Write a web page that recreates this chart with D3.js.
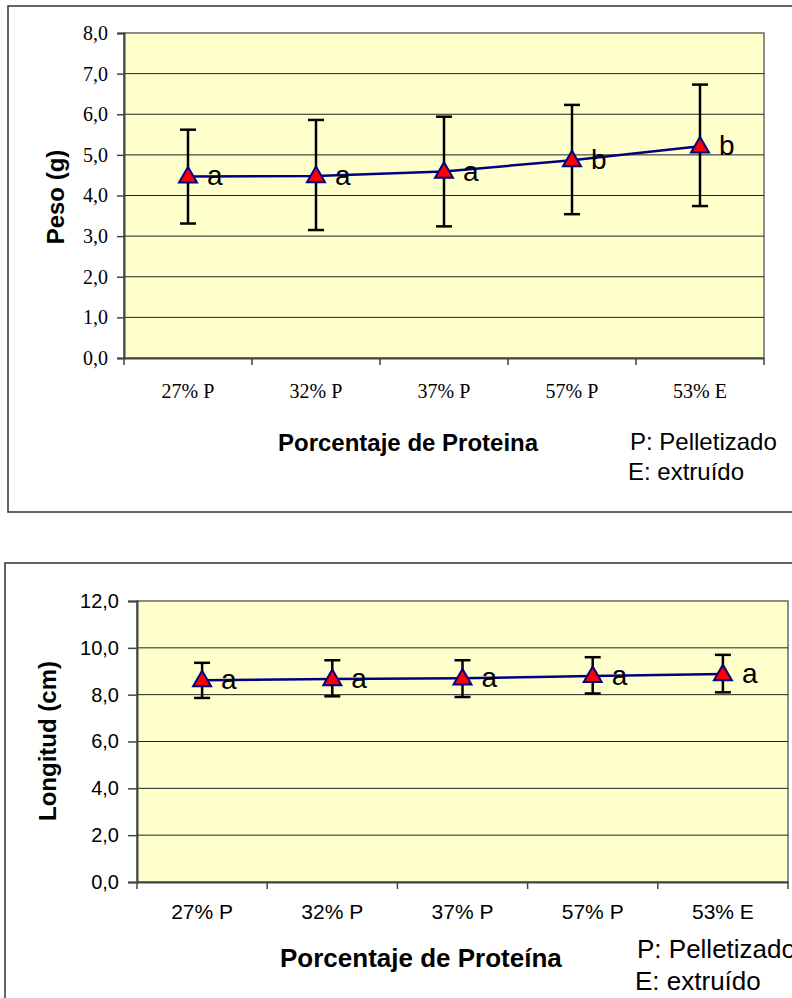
<!DOCTYPE html>
<html>
<head>
<meta charset="utf-8">
<script src="https://cdn.jsdelivr.net/npm/d3@7"></script>
<style>
  body { margin: 0; background: #fff; }
  svg { display: block; }
</style>
</head>
<body>
<svg width="792" height="998"></svg>
<script>
const categories = ['27% P', '32% P', '37% P', '57% P', '53% E']

// peso (g)
const pesoMean = [4.47, 4.48, 4.59, 4.87, 5.21]
const pesoHigh = [5.62, 5.86, 5.94, 6.23, 6.73]
const pesoLow = [3.31, 3.15, 3.24, 3.54, 3.74]
const pesoGroup = ['a', 'a', 'a', 'b', 'b']
const pesoTicks = [0, 1, 2, 3, 4, 5, 6, 7, 8]

// longitud (cm)
const longMean = [8.62, 8.67, 8.70, 8.80, 8.88]
const longHigh = [9.36, 9.47, 9.47, 9.60, 9.70]
const longLow = [7.86, 7.93, 7.90, 8.05, 8.10]
const longGroup = ['a', 'a', 'a', 'a', 'a']
const longTicks = [0, 2, 4, 6, 8, 10, 12]

const legendLines = ['P: Pelletizado', 'E: extruído']

const comma = d3.formatLocale({ decimal: ',', thousands: '.', grouping: [3], currency: ['', ''] }).format('.1f')
const svg = d3.select('svg')

function drawChart(c) {
  const g = svg.append('g')

  // outer box (right edge runs off the page)
  g.append('rect')
    .attr('x', c.box[0]).attr('y', c.box[1])
    .attr('width', 900).attr('height', c.box[2] - c.box[1])
    .attr('fill', '#fff').attr('stroke', '#333').attr('stroke-width', 1.5)

  const x = d3.scaleBand().domain(categories).range([c.left, c.right])
  const y = d3.scaleLinear().domain([0, d3.max(c.ticks)]).range([c.bottom, c.top])

  // plot area
  g.append('rect')
    .attr('x', c.left).attr('y', c.top)
    .attr('width', c.right - c.left).attr('height', c.bottom - c.top)
    .attr('fill', '#ffffcc').attr('stroke', '#8c8c8c').attr('stroke-width', 2)

  // gridlines
  g.selectAll('.grid')
    .data(c.ticks.slice(1, -1))
    .enter().append('line')
    .attr('x1', c.left).attr('x2', c.right)
    .attr('y1', d => y(d)).attr('y2', d => y(d))
    .attr('stroke', '#222').attr('stroke-width', 1)

  // y axis
  const yAxis = g.append('g')
    .attr('transform', `translate(${c.left},0)`)
    .call(d3.axisLeft(y).tickValues(c.ticks).tickFormat(comma).tickSize(c.tickLen).tickPadding(c.tickPad))
  yAxis.select('.domain').attr('stroke', '#444').attr('stroke-width', 2)
  yAxis.selectAll('.tick line').attr('stroke', '#444').attr('stroke-width', 1.5)
  yAxis.selectAll('text')
    .attr('font-family', c.tickFont).attr('font-size', c.tickFontSize).attr('fill', '#000')

  // x axis: labels at band centres, ticks at band edges
  const xAxis = g.append('g')
    .attr('transform', `translate(0,${c.bottom})`)
    .call(d3.axisBottom(x).tickSize(0).tickPadding(c.xLabelPad))
  xAxis.select('.domain').attr('stroke', '#444').attr('stroke-width', 2)
  xAxis.selectAll('text')
    .attr('font-family', c.tickFont).attr('font-size', c.xFontSize).attr('fill', '#000')

  const edges = categories.map(d => x(d)).concat([x.range()[1]])
  g.selectAll('.xtick')
    .data(edges)
    .enter().append('line')
    .attr('x1', d => d).attr('x2', d => d)
    .attr('y1', c.bottom).attr('y2', c.bottom + 7)
    .attr('stroke', '#444').attr('stroke-width', 1.5)

  const rows = categories.map((d, i) => ({
    cat: d, mean: c.mean[i], hi: c.high[i], lo: c.low[i], grp: c.group[i]
  }))
  const cx = d => x(d.cat) + x.bandwidth() / 2

  // error bars
  const eb = g.selectAll('.eb').data(rows).enter().append('g')
    .attr('stroke', '#000').attr('stroke-width', 2.5)
  eb.append('line')
    .attr('x1', cx).attr('x2', cx)
    .attr('y1', d => y(d.hi)).attr('y2', d => y(d.lo))
  eb.append('line')
    .attr('x1', d => cx(d) - 8).attr('x2', d => cx(d) + 8)
    .attr('y1', d => y(d.hi)).attr('y2', d => y(d.hi))
  eb.append('line')
    .attr('x1', d => cx(d) - 8).attr('x2', d => cx(d) + 8)
    .attr('y1', d => y(d.lo)).attr('y2', d => y(d.lo))

  // mean line
  g.append('path')
    .datum(rows)
    .attr('fill', 'none').attr('stroke', '#000080').attr('stroke-width', 2.5)
    .attr('d', d3.line().x(cx).y(d => y(d.mean)))

  // triangles
  g.selectAll('.mk').data(rows).enter().append('path')
    .attr('d', d3.symbol().type(d3.symbolTriangle).size(140))
    .attr('transform', d => `translate(${cx(d)},${y(d.mean) + 1})`)
    .attr('fill', '#ff0000').attr('stroke', '#000080').attr('stroke-width', 2)

  // group letters
  g.selectAll('.grp').data(rows).enter().append('text')
    .attr('x', d => cx(d) + 19).attr('y', d => y(d.mean) + 9)
    .attr('font-family', 'Liberation Sans, Arial, sans-serif').attr('font-size', 28)
    .text(d => d.grp)

  // y title
  g.append('text')
    .attr('transform', `translate(${c.yTitle[0]},${c.yTitle[1]}) rotate(-90)`)
    .attr('text-anchor', 'middle')
    .attr('font-family', 'Liberation Sans, Arial, sans-serif')
    .attr('font-weight', 'bold').attr('font-size', 24)
    .text(c.yLabel)

  // x title
  g.append('text')
    .attr('x', c.xTitle[0]).attr('y', c.xTitle[1])
    .attr('font-family', 'Liberation Sans, Arial, sans-serif')
    .attr('font-weight', 'bold').attr('font-size', c.titleSize)
    .text(c.xLabel)

  // key for P / E
  g.selectAll('.key').data(legendLines).enter().append('text')
    .attr('x', (d, i) => c.key[i][0]).attr('y', (d, i) => c.key[i][1])
    .attr('font-family', 'Liberation Sans, Arial, sans-serif').attr('font-size', c.keySize)
    .text(d => d)
}

drawChart({
  box: [8, 6, 512],
  left: 124, right: 764, top: 33, bottom: 358,
  ticks: pesoTicks,
  mean: pesoMean, high: pesoHigh, low: pesoLow, group: pesoGroup,
  tickFont: 'Liberation Serif, Times New Roman, serif', tickFontSize: 20, xFontSize: 20,
  tickLen: 7, tickPad: 9, xLabelPad: 26,
  yLabel: 'Peso (g)', yTitle: [64, 197],
  xLabel: 'Porcentaje de Proteina', xTitle: [278, 451], titleSize: 24,
  key: [[630, 450], [628, 480]], keySize: 24
})

drawChart({
  box: [5, 563, 1100],
  left: 137, right: 788, top: 601, bottom: 882,
  ticks: longTicks,
  mean: longMean, high: longHigh, low: longLow, group: longGroup,
  tickFont: 'Liberation Sans, Arial, sans-serif', tickFontSize: 20, xFontSize: 21,
  tickLen: 9, tickPad: 9, xLabelPad: 22,
  yLabel: 'Longitud (cm)', yTitle: [56, 741],
  xLabel: 'Porcentaje de Proteína', xTitle: [280, 967], titleSize: 26,
  key: [[637, 958], [635, 990]], keySize: 26
})
</script>
</body>
</html>
